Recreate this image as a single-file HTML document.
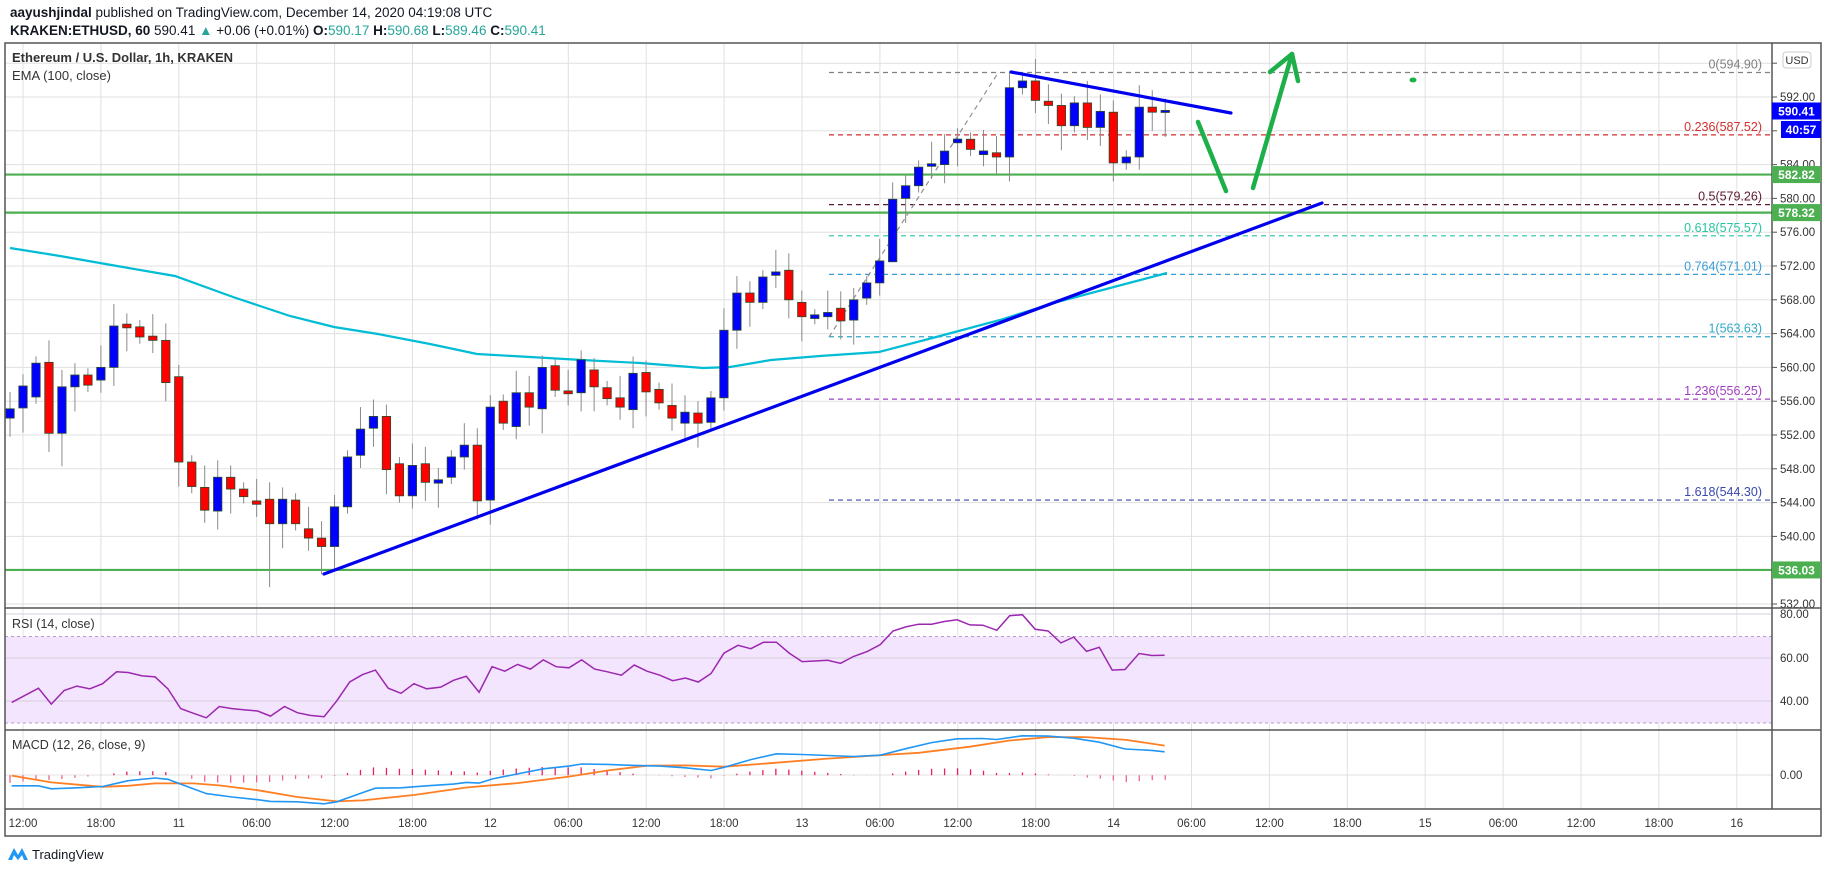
<!DOCTYPE html>
<html><head><meta charset="utf-8">
<style>
html,body{margin:0;padding:0;background:#fff;}
body{width:1828px;height:868px;overflow:hidden;font-family:"Liberation Sans",sans-serif;}
svg text{font-family:"Liberation Sans",sans-serif;}
</style></head>
<body>
<svg id="s" width="1828" height="868" viewBox="0 0 1828 868" xmlns="http://www.w3.org/2000/svg">
<rect width="1828" height="868" fill="#fff"/>
<text x="10" y="17" font-size="13.5" fill="#131722"><tspan font-weight="bold">aayushjindal</tspan> published on TradingView.com, December 14, 2020 04:19:08 UTC</text>
<text x="10" y="35" font-size="13.5" fill="#131722"><tspan font-weight="bold">KRAKEN:ETHUSD, 60</tspan> 590.41 <tspan fill="#26a69a">▲</tspan> +0.06 (+0.01%) <tspan font-weight="bold">O:</tspan><tspan fill="#26a69a">590.17</tspan> <tspan font-weight="bold">H:</tspan><tspan fill="#26a69a">590.68</tspan> <tspan font-weight="bold">L:</tspan><tspan fill="#26a69a">589.46</tspan> <tspan font-weight="bold">C:</tspan><tspan fill="#26a69a">590.41</tspan></text>
<g id="grid"></g>
<g id="main"></g>
<g id="ind"></g>
<g id="frame" fill="none" stroke="#555" stroke-width="1.5">
<rect x="5" y="43" width="1816" height="793"/>
<line x1="1772" y1="43" x2="1772" y2="809"/>
<line x1="5" y1="608" x2="1821" y2="608"/>
<line x1="5" y1="730" x2="1821" y2="730"/>
<line x1="5" y1="809" x2="1821" y2="809"/>
</g>
<g id="labels"></g>
<text x="12" y="62" font-size="13" fill="#333" font-weight="bold">Ethereum / U.S. Dollar, 1h, KRAKEN</text>
<text x="12" y="80" font-size="13" fill="#333">EMA (100, close)</text>
<text x="12" y="628" font-size="12.5" fill="#333">RSI (14, close)</text>
<text x="12" y="749" font-size="12.5" fill="#333">MACD (12, 26, close, 9)</text>
<g transform="translate(8,846)">
<path d="M0 14 L6 2 L10 9 L14 2 L20 14 L16 14 L14 9 L10 14 L6 9 L4 14 Z" fill="#2196f3"/>
<text x="24" y="13" font-size="13" fill="#131722">TradingView</text>
</g>
</svg>
<script>
(function(){
var NS="http://www.w3.org/2000/svg";
function el(p,t,a,txt){var e=document.createElementNS(NS,t);for(var k in a)e.setAttribute(k,a[k]);if(txt!=null)e.textContent=txt;document.getElementById(p).appendChild(e);return e;}
function Y(p){return 97+(592-p)*8.45;}
function X(h){return 23+h*12.98;}
// grid
var tl=["12:00","18:00","11","06:00","12:00","18:00","12","06:00","12:00","18:00","13","06:00","12:00","18:00","14","06:00","12:00","18:00","15","06:00","12:00","18:00","16"];
for(var i=0;i<tl.length;i++){var x=23+i*77.9;
 el("grid","line",{x1:x,y1:43,x2:x,y2:809,stroke:"#e0e0e0","stroke-width":1});
 el("grid","text",{x:x,y:827,"font-size":11.5,fill:"#333","text-anchor":"middle"},tl[i]);}
for(var p=532;p<=596;p+=4){var y=Y(p);if(y<44||y>607)continue;
 el("grid","line",{x1:5,y1:y,x2:1772,y2:y,stroke:"#e0e0e0","stroke-width":1});
 el("grid","line",{x1:1772,y1:y,x2:1777,y2:y,stroke:"#555","stroke-width":1});
 if(p!=588&&p!=536&&p!=596)el("grid","text",{x:1780,y:y+4,"font-size":11.5,fill:"#333"},p.toFixed(2));}
// RSI pane bg
el("grid","rect",{x:5,y:636.5,width:1767,height:86.5,fill:"#f3e5fd"});
[614,658,701].forEach(function(y){el("grid","line",{x1:5,y1:y,x2:1772,y2:y,stroke:"#d6d0dc","stroke-width":1});});
[636.5,723].forEach(function(y){el("grid","line",{x1:5,y1:y,x2:1772,y2:y,stroke:"#b89cc8","stroke-width":1,"stroke-dasharray":"3,3"});});
[["80.00",614],["60.00",658],["40.00",701]].forEach(function(a){el("grid","text",{x:1780,y:a[1]+4,"font-size":11.5,fill:"#333"},a[0]);});
el("grid","line",{x1:5,y1:775,x2:1772,y2:775,stroke:"#e0e0e0","stroke-width":1});
el("grid","text",{x:1780,y:779,"font-size":11.5,fill:"#333"},"0.00");
// green horizontals
[582.82,578.32,536.03].forEach(function(p){el("main","line",{x1:5,y1:Y(p),x2:1772,y2:Y(p),stroke:"#4caf50","stroke-width":2.2});});
// fibs
var fibs=[["0",594.90,"#808080"],["0.236",587.52,"#d32f2f"],["0.5",579.26,"#5c1a33"],["0.618",575.57,"#26c6a0"],["0.764",571.01,"#3a9bd5"],["1",563.63,"#30a8c8"],["1.236",556.25,"#a040c0"],["1.618",544.30,"#3949ab"]];
fibs.forEach(function(f){var y=Y(f[1]);
 el("main","line",{x1:829,y1:y,x2:1772,y2:y,stroke:f[2],"stroke-width":1.2,"stroke-dasharray":"5,4"});
 el("main","text",{x:1762,y:y-4,"font-size":12.5,fill:f[2],"text-anchor":"end"},f[0]+"("+f[1].toFixed(2)+")");});
el("main","line",{x1:829,y1:337,x2:998,y2:73,stroke:"#909090","stroke-width":1.2,"stroke-dasharray":"5,4"});
// EMA
el("main","polyline",{points:"10,248 60,256 117,266 175,276 233,297 290,316 334,327 378,334 430,344 477,354 530,357 582,360 640,363 703,368 730,367 771,360 820,356 879,352 940,336 1000,320 1057,302 1129,283 1167,273",fill:"none",stroke:"#00bcd4","stroke-width":2.2});
// candles
var d=[[-1,554,555.1],[0,555.2,557.8],[1,556.5,560.5],[2,560.6,552.2],[3,552.2,557.7],[4,557.7,559.1],[5,559.1,557.9],[6,558.5,560],[7,560,564.9],[8,565,564.8],[9,564.8,563.6],[10,563.7,563.2],[11,563.2,558.2],[12,558.9,548.8],[13,548.8,545.9],[14,545.8,543.1],[15,543,547],[16,547,545.6],[17,545.6,544.7],[18,544.2,543.8],[19,544.4,541.5],[20,541.5,544.4],[21,544.3,541.5],[22,540.9,539.8],[23,539.8,538.8],[24,538.8,543.5],[25,543.5,549.4],[26,549.6,552.7],[27,552.8,554.2],[28,554.2,547.9],[29,548.6,544.8],[30,544.8,548.4],[31,548.6,546.4],[32,546.3,546.7],[33,547,549.4],[34,549.4,550.8],[35,550.8,544.2],[36,544.3,555.3],[37,556,553.4],[38,553,557],[39,557,555.3],[40,555.1,560],[41,560.2,557.3],[42,557.1,557],[43,557,560.9],[44,559.7,557.7],[45,557.6,556.3],[46,556.4,555.3],[47,555,559.3],[48,559.4,557.1],[49,557.4,555.8],[50,555.5,554],[51,553.4,554.7],[52,554.6,553.4],[53,553.5,556.4],[54,556.4,564.4],[55,564.4,568.8],[56,568.8,567.7],[57,567.7,570.7],[58,570.9,571.3],[59,571.5,568],[60,567.7,566],[61,565.9,566.1],[62,566,566.5],[63,567,565.5],[64,565.6,568],[65,568.2,570],[66,570,572.6],[67,572.5,579.9],[68,580,581.5],[69,581.5,583.7],[70,583.8,584.1],[71,584,585.6],[72,586.7,586.9],[73,587,585.8],[74,585.3,585.5],[75,585.4,584.9],[76,584.9,593.1],[77,593.1,593.9],[78,593.9,591.6],[79,591.5,591],[80,591,588.6],[81,588.6,591.3],[82,591.3,588.4],[83,588.4,590.3],[84,590.2,584.2],[85,584.2,584.9],[86,584.9,590.8],[87,590.8,590.2],[88,590.17,590.41]];
var sh={76:594.9,7:567.5,43:562};var sl={67:578,3:548.3,23:535.5,19:534,2:550,84:582};
d.forEach(function(c){var h=c[0],o=c[1],cl=c[2],x=X(h);
 var hi=sh[h]||Math.max(o,cl)+0.8+((h*7+9)%4)*0.6, lo=sl[h]||Math.min(o,cl)-0.8-((h*5+11)%4)*0.7;
 el("main","line",{x1:x,y1:Y(hi),x2:x,y2:Y(lo),stroke:"#8a8a8a","stroke-width":1});
 var t=Y(Math.max(o,cl)),b=Y(Math.min(o,cl));if(b-t<2){t-=1;b+=1;}
 el("main","rect",{x:x-4.2,y:t,width:8.4,height:b-t,fill:cl>=o?"#0000ff":"#ff0000",stroke:"#2a4a2a","stroke-width":0.8});});
// trend lines
el("main","line",{x1:324,y1:574,x2:1322,y2:203,stroke:"#0000ee","stroke-width":3.2,"stroke-linecap":"round"});
el("main","line",{x1:1011,y1:72,x2:1231,y2:113,stroke:"#0000ee","stroke-width":3.2,"stroke-linecap":"round"});
// green arrows
var g={fill:"none",stroke:"#1db04a","stroke-width":4.5,"stroke-linecap":"round","stroke-linejoin":"round"};
el("main","polyline",Object.assign({points:"1198,122 1226,191"},g));
el("main","polyline",Object.assign({points:"1253,188 1292,54"},g));
el("main","polyline",Object.assign({points:"1270,72 1292,54 1298,81"},g));
el("main","ellipse",{cx:1413,cy:80,rx:3.5,ry:2.5,fill:"#1db04a"});
// RSI
var r=[[10,360],[33,318],[44,365],[55,325],[66,312],[77,320],[88,305],[100,270],[110,272],[122,282],[133,285],[144,320],[155,378],[166,392],[177,405],[188,372],[199,378],[210,382],[221,385],[232,400],[244,372],[255,390],[266,398],[278,402],[289,355],[300,300],[311,278],[322,265],[333,318],[344,333],[355,305],[366,320],[378,315],[389,295],[400,283],[411,330],[422,255],[433,268],[444,248],[455,262],[466,235],[477,255],[488,258],[499,235],[510,262],[521,270],[533,280],[544,250],[555,268],[566,280],[577,296],[588,288],[599,300],[610,275],[621,215],[633,192],[644,202],[655,183],[666,183],[677,215],[688,240],[699,238],[710,236],[721,245],[732,225],[744,210],[755,190],[766,150],[777,138],[788,130],[799,130],[810,122],[821,117],[832,132],[843,133],[855,148],[866,105],[877,102],[888,145],[899,150],[910,185],[921,168],[932,210],[943,198],[954,265],[965,263],[977,216],[988,222],[999,221]];
function tr(a){return a.map(function(p){return (p[0]*1.1658).toFixed(1)+","+(580+p[1]/2.94).toFixed(1);}).join(" ");}
el("ind","polyline",{points:tr(r),fill:"none",stroke:"#9c27b0","stroke-width":1.5});
var bl=[[10,605],[33,605],[44,614],[66,611],[88,607],[110,590],[133,582],[144,586],[155,600],[177,628],[199,638],[221,646],[232,651],[255,652],[278,658],[289,652],[311,625],[322,612],[344,611],[366,605],[389,600],[400,595],[411,597],[422,585],[444,570],[466,555],[488,547],[499,541],[521,542],[544,545],[566,547],[588,552],[610,560],[621,551],[644,528],[666,511],[688,513],[710,516],[732,519],[755,515],[777,496],[799,478],[821,467],[843,466],[855,469],[877,458],[899,459],[921,465],[943,477],[965,497],[988,501],[999,505]];
var or=[[10,575],[44,595],[88,608],[110,605],[133,598],[166,598],[188,604],[221,618],[255,638],[289,651],[311,648],[355,632],[400,610],[444,597],[488,578],[521,560],[555,546],[588,545],[621,549],[666,537],[710,525],[755,515],[788,508],[832,490],[866,472],[899,462],[932,462],[966,470],[999,487]];
function interp(a,x){for(var i=1;i<a.length;i++){if(x<=a[i][0]){var t=(x-a[i-1][0])/(a[i][0]-a[i-1][0]);return a[i-1][1]+t*(a[i][1]-a[i-1][1]);}}return a[a.length-1][1];}
for(var h=-1;h<=88;h++){var zx=(X(h))/1.1658;if(zx<10)zx=10;var v=(interp(or,zx)-interp(bl,zx))*0.75;
 var y0=580+574/2.94,y1=580+(574-v)/2.94;
 el("ind","line",{x1:X(h),y1:y0,x2:X(h),y2:y1,stroke:v>0?"#e91e63":"#f06292","stroke-width":1.3});}
el("ind","polyline",{points:tr(or),fill:"none",stroke:"#ff7f24","stroke-width":1.8});
el("ind","polyline",{points:tr(bl),fill:"none",stroke:"#2196f3","stroke-width":1.6});
// price labels
function box(y,t,c,x,w){el("labels","rect",{x:x||1772,y:y-8.5,width:w||49,height:17,fill:c});el("labels","text",{x:(x||1772)+(w||49)/2,y:y+4.5,"font-size":12,fill:"#fff","font-weight":"bold","text-anchor":"middle"},t);}
box(111,"590.41","#0000ff");
box(129.5,"40:57","#0000ff",1781,40);
box(Y(582.82),"582.82","#4caf50");
box(Y(578.32),"578.32","#4caf50");
box(Y(536.03),"536.03","#4caf50");
el("labels","rect",{x:1783,y:52,width:28,height:16,rx:3,fill:"#fff",stroke:"#ccc"});
el("labels","text",{x:1797,y:64,"font-size":11,fill:"#333","text-anchor":"middle"},"USD");
})();
</script>
</body></html>
